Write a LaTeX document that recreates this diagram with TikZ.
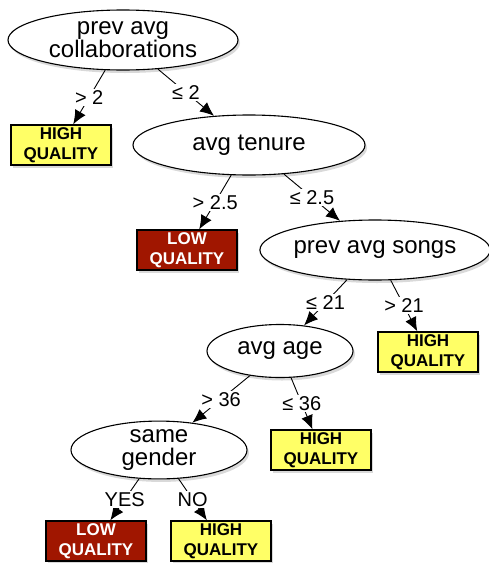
\documentclass[tikz,border=0pt]{standalone}
\usepackage{fontspec}
\setmainfont{Liberation Sans}
\usetikzlibrary{shapes.geometric,shadows,arrows.meta}
\definecolor{hiyellow}{RGB}{255,255,102}
\definecolor{lored}{RGB}{160,22,0}
\tikzset{
  test/.style={ellipse, draw, line width=1.1pt, fill=white, inner sep=0pt, align=center,
    font=\fontsize{24}{23}\selectfont,
    drop shadow={shadow xshift=2pt, shadow yshift=-3pt, opacity=.3}},
  hq/.style={rectangle, draw, line width=1.4pt, fill=hiyellow, minimum width=100pt,
    minimum height=40pt, inner sep=0pt, align=center,
    font=\bfseries\fontsize{17}{20}\selectfont,
    drop shadow={shadow xshift=2pt, shadow yshift=-3pt, opacity=.3}},
  lq/.style={hq, fill=lored, text=white},
  cond/.style={fill=white, inner sep=1.5pt, font=\fontsize{20}{20}\selectfont},
  branch/.style={->, line width=.9pt}
}
\begin{document}
\begin{tikzpicture}[x=1pt, y=-1pt, >={Latex[length=14pt,width=12pt]}]
\useasboundingbox (0,0) rectangle (489,563);
\node [test, minimum width=230pt, minimum height=60pt] (collab) at (123,40) {prev avg\\collaborations};
\node [hq] (hq1) at (61,145) {HIGH\\QUALITY};
\node [test, minimum width=232pt, minimum height=60pt] (tenure) at (249,145) {avg tenure};
\node [lq] (lq1) at (187,250) {LOW\\QUALITY};
\node [test, minimum width=226pt, minimum height=60pt] (songs) at (375,250) {prev avg songs};
\node [hq] (hq2) at (428,352) {HIGH\\QUALITY};
\node [test, minimum width=146pt, minimum height=53pt] (age) at (280,351) {avg age};
\node [hq] (hq3) at (321,450) {HIGH\\QUALITY};
\node [test, minimum width=176pt, minimum height=54pt] (gender) at (159,450) {same\\gender};
\node [lq] (lq2) at (96,541) {LOW\\QUALITY};
\node [hq] (hq4) at (221,541) {HIGH\\QUALITY};
% branches
\draw [branch] (collab)--node [cond]{> 2}(hq1);
\draw [branch] (collab)--node [cond]{≤ 2}(tenure);
\draw [branch] (tenure)--node [cond]{> 2.5}(lq1);
\draw [branch] (tenure)--node [cond]{≤ 2.5}(songs);
\draw [branch] (songs)--node [cond]{≤ 21}(age);
\draw [branch] (songs)--node [cond]{> 21}(hq2);
\draw [branch] (age)--node [cond]{> 36}(gender);
\draw [branch] (age)--node [cond]{≤ 36}(hq3);
\draw [branch] (gender)--node [cond]{YES}(lq2);
\draw [branch] (gender)--node [cond]{NO}(hq4);
\end{tikzpicture}
\end{document}
